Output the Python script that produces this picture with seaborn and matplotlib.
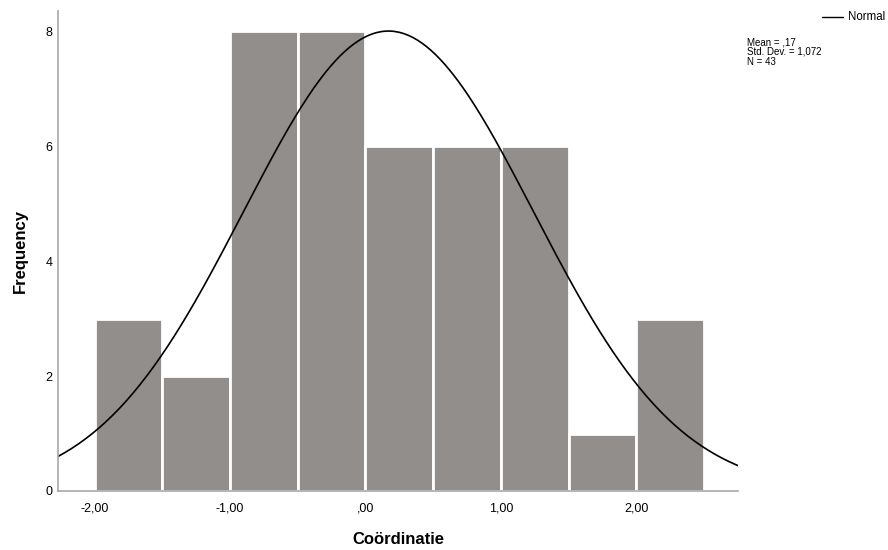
import numpy as np
import pandas as pd
import matplotlib
matplotlib.use("Agg")
import matplotlib.pyplot as plt
import seaborn as sns

# ── Data ─────────────────────────────────────────────────────────────────────
bin_edges  = [-2.0, -1.5, -1.0, -0.5, 0.0, 0.5, 1.0, 1.5, 2.0, 2.5]
counts     = [3, 2, 8, 8, 6, 6, 6, 1, 3]
mean, sd, n = 0.17, 1.072, 43
xticks      = [-2.0, -1.0, 0.0, 1.0, 2.0]
xticklabels = ["-2,00", "-1,00", ",00", "1,00", "2,00"]
yticks      = [0, 2, 4, 6, 8]

centers = [(a + b) / 2 for a, b in zip(bin_edges[:-1], bin_edges[1:])]
width = bin_edges[1] - bin_edges[0]

# normal curve scaled to frequency
xs = np.linspace(-2.27, 2.75, 300)
ys = n * width / (sd * np.sqrt(2 * np.pi)) * np.exp(-0.5 * ((xs - mean) / sd) ** 2)
curve = pd.DataFrame({"x": xs, "y": ys})

# ── Plot ─────────────────────────────────────────────────────────────────────
sns.set_style("white")
plt.rcParams["font.family"] = ["Liberation Sans", "DejaVu Sans"]
plt.rcParams["text.color"] = "black"
plt.rcParams["axes.labelcolor"] = "black"
plt.rcParams["xtick.color"] = "black"
plt.rcParams["ytick.color"] = "black"

fig = plt.figure(figsize=(8.88, 5.5), dpi=100)
ax = fig.add_axes([0.0653, 0.1073, 0.7657, 0.8727])

sns.histplot(x=centers, weights=counts, bins=bin_edges, color="#918e8c",
             alpha=1, edgecolor="white", linewidth=2.0, ax=ax)
sns.lineplot(data=curve, x="x", y="y", color="black", linewidth=1.2, ax=ax)

ax.set_xlim(-2.27, 2.75)
ax.set_ylim(0, 8.35)
ax.set_xticks(xticks)
ax.set_xticklabels(xticklabels, fontsize=9)
ax.set_yticks(yticks)
ax.set_yticklabels([str(v) for v in yticks], fontsize=9)
ax.tick_params(axis="x", length=0, pad=8)
ax.tick_params(axis="y", length=0, pad=4)
ax.set_xlabel("Coördinatie", fontsize=12, fontweight="bold", labelpad=13)
ax.set_ylabel("Frequency", fontsize=12, fontweight="bold", labelpad=13)

for side in ["top", "right"]:
    ax.spines[side].set_visible(False)
for side in ["left", "bottom"]:
    ax.spines[side].set_color("#a8a8a8")
    ax.spines[side].set_linewidth(1.2)

# legend and stats box
fig.add_artist(plt.Line2D([0.926, 0.949], [0.969, 0.969], color="black",
                          linewidth=1, transform=fig.transFigure))
fig.text(0.955, 0.969, "Normal", fontsize=8.3, va="center", ha="left")
fig.text(0.841, 0.932, "Mean = ,17\nStd. Dev. = 1,072\nN = 43",
         fontsize=7, va="top", ha="left", linespacing=0.95)

fig.savefig("out.png", dpi=100)
